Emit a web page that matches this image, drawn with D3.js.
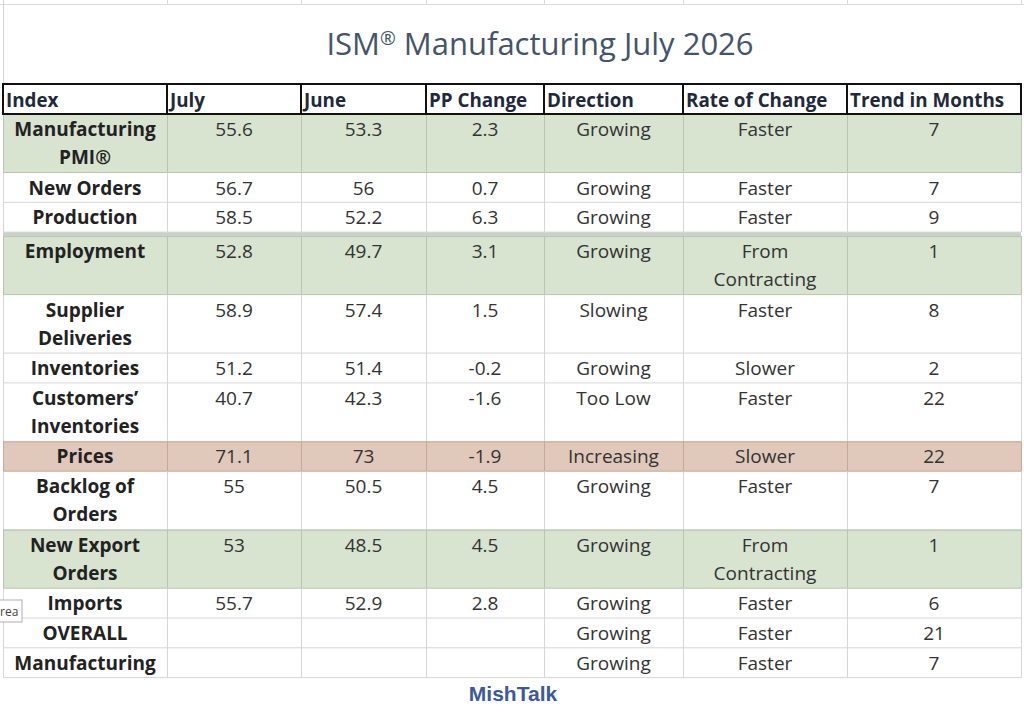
<!DOCTYPE html>
<html>
<head>
<meta charset="utf-8">
<script src="https://cdn.jsdelivr.net/npm/d3@7"></script>
<style>
  body { margin: 0; background: #fff; }
  svg { display: block; }
</style>
</head>
<body>
<svg id="chart" width="1024" height="721"></svg>
<script>
// Table contents
const titleParts = ["ISM", "®", " Manufacturing July 2026"];
const headers = ["Index", "July", "June", "PP Change", "Direction", "Rate of Change", "Trend in Months"];
const indexNames = [
  ["Manufacturing", "PMI®"], ["New Orders"], ["Production"], ["Employment"],
  ["Supplier", "Deliveries"], ["Inventories"], ["Customers’", "Inventories"], ["Prices"],
  ["Backlog of", "Orders"], ["New Export", "Orders"], ["Imports"], ["OVERALL"], ["Manufacturing"]
];
const julyValues = [55.6, 56.7, 58.5, 52.8, 58.9, 51.2, 40.7, 71.1, 55, 53, 55.7, null, null];
const juneValues = [53.3, 56, 52.2, 49.7, 57.4, 51.4, 42.3, 73, 50.5, 48.5, 52.9, null, null];
const ppChanges = [2.3, 0.7, 6.3, 3.1, 1.5, -0.2, -1.6, -1.9, 4.5, 4.5, 2.8, null, null];
const directions = ["Growing", "Growing", "Growing", "Growing", "Slowing", "Growing", "Too Low",
  "Increasing", "Growing", "Growing", "Growing", "Growing", "Growing"];
const ratesOfChange = [
  ["Faster"], ["Faster"], ["Faster"], ["From", "Contracting"], ["Faster"], ["Slower"], ["Faster"],
  ["Slower"], ["Faster"], ["From", "Contracting"], ["Faster"], ["Faster"], ["Faster"]
];
const trendMonths = [7, 7, 9, 1, 8, 2, 22, 22, 7, 1, 6, 21, 7];
const rowHighlight = ["green", "", "", "green", "", "", "", "prices", "", "green", "", "", ""];

// Layout
const colEdges = [3, 167, 301, 426, 544, 683, 847, 1021];
const headerTop = 84, headerH = 30;
const lineH = 28, singleH = 29.8, doubleH = 58.5;
const thickTopRows = new Set([3]);
const fills = { green: "#d8e3d0", prices: "#e0c8bb" };
const edges = { green: "#b8c5b0", prices: "#c8a999" };

const svg = d3.select("#chart");

const cols = d3.range(headers.length);
const x = d3.scaleOrdinal().domain(cols).range(colEdges.slice(0, -1));
const colW = c => colEdges[c + 1] - colEdges[c];

// Build rows from data
const rows = indexNames.map((name, i) => {
  const cells = [
    name,
    julyValues[i] == null ? [] : [String(julyValues[i])],
    juneValues[i] == null ? [] : [String(juneValues[i])],
    ppChanges[i] == null ? [] : [String(ppChanges[i])],
    [directions[i]],
    ratesOfChange[i],
    [String(trendMonths[i])]
  ];
  const lines = d3.max(cells, c => c.length);
  return { i, cells, lines, hl: rowHighlight[i], h: lines > 1 ? doubleH : singleH, gap: thickTopRows.has(i) ? 4 : 0 };
});
let acc = headerTop + headerH;
rows.forEach(r => { acc += r.gap; r.top = acc; acc += r.h; });
const tableBottom = acc;
const y = d3.scaleOrdinal().domain(rows.map(r => r.i)).range(rows.map(r => r.top));

// Sheet gridlines above the table
svg.append("line").attr("x1", 0).attr("x2", 1024).attr("y1", 4.5).attr("y2", 4.5)
  .attr("stroke", "#dcdcdc");
svg.selectAll(".topgrid").data(colEdges).enter().append("line")
  .attr("x1", d => d + 0.5).attr("x2", d => d + 0.5).attr("y1", 0).attr("y2", 4.5)
  .attr("stroke", "#dcdcdc");
svg.append("line").attr("x1", 3.5).attr("x2", 3.5).attr("y1", 0).attr("y2", tableBottom)
  .attr("stroke", "#d4d4d4");

// Title
const titleText = svg.append("text")
  .attr("x", 540).attr("y", 55)
  .attr("text-anchor", "middle")
  .attr("font-family", "Open Sans")
  .attr("font-size", 31)
  .attr("fill", "#44546a");
titleText.append("tspan").text(titleParts[0]);
titleText.append("tspan").attr("font-size", 19).attr("dy", -10).text(titleParts[1]);
titleText.append("tspan").attr("dy", 10).text(titleParts[2]);

// Row backgrounds
const rowG = svg.append("g");
rowG.selectAll("rect.hl").data(rows.filter(r => r.hl)).enter().append("rect")
  .attr("x", colEdges[0]).attr("width", colEdges[colEdges.length - 1] - colEdges[0])
  .attr("y", r => y(r.i)).attr("height", r => r.h)
  .attr("fill", r => fills[r.hl]);

// Thick separators above some rows
rowG.selectAll("rect.gap").data(rows.filter(r => r.gap)).enter().append("rect")
  .attr("x", colEdges[0]).attr("width", colEdges[colEdges.length - 1] - colEdges[0])
  .attr("y", r => y(r.i) - r.gap).attr("height", r => r.gap)
  .attr("fill", "#cbd1c7");

// Gridlines in data area
rows.forEach(r => {
  const c = r.hl ? edges[r.hl] : "#d6d6d6";
  rowG.append("line")
    .attr("x1", colEdges[0]).attr("x2", colEdges[colEdges.length - 1])
    .attr("y1", r.top + r.h).attr("y2", r.top + r.h)
    .attr("stroke", c);
  if (r.hl) {
    rowG.append("line")
      .attr("x1", colEdges[0]).attr("x2", colEdges[colEdges.length - 1])
      .attr("y1", r.top + 0.5).attr("y2", r.top + 0.5)
      .attr("stroke", c);
  }
  rowG.selectAll(null).data(colEdges).enter().append("line")
    .attr("x1", d => d + 0.5).attr("x2", d => d + 0.5)
    .attr("y1", r.top).attr("y2", r.top + r.h)
    .attr("stroke", c);
});

// Header cells
const head = svg.append("g");
head.selectAll("rect").data(cols).enter().append("rect")
  .attr("x", c => x(c)).attr("y", headerTop)
  .attr("width", c => colW(c)).attr("height", headerH)
  .attr("fill", "#fff").attr("stroke", "#111").attr("stroke-width", 2);
head.selectAll("text").data(cols).enter().append("text")
  .attr("x", c => x(c) + 3).attr("y", headerTop + 23)
  .attr("font-family", "Open Sans").attr("font-weight", "bold")
  .attr("font-size", 18.8).attr("fill", "#1e2a3a")
  .text(c => headers[c]);

// Cell texts
const cellData = [];
rows.forEach(r => r.cells.forEach((lines, c) => lines.forEach((t, k) => cellData.push({ r, c, k, t }))));
svg.append("g").selectAll("text").data(cellData).enter().append("text")
  .attr("x", d => x(d.c) + colW(d.c) / 2)
  .attr("y", d => y(d.r.i) + 22 + d.k * lineH)
  .attr("text-anchor", "middle")
  .attr("font-family", "Open Sans")
  .attr("font-weight", d => d.c === 0 ? "bold" : "normal")
  .attr("font-size", 19)
  .attr("fill", d => d.c === 0 ? "#222" : "#333")
  .text(d => d.t);

// Leftover tooltip fragment at the left edge
const tip = svg.append("g");
tip.append("rect").attr("x", -2).attr("y", 600).attr("width", 24).attr("height", 22)
  .attr("fill", "#fff").attr("stroke", "#b0b0b0");
tip.append("text").attr("x", 0).attr("y", 616)
  .attr("font-family", "Open Sans").attr("font-size", 12).attr("fill", "#444")
  .text("rea");

// Watermark
svg.append("text")
  .attr("x", 513).attr("y", 701)
  .attr("text-anchor", "middle")
  .attr("font-family", "Liberation Sans, Arial")
  .attr("font-weight", "bold")
  .attr("font-size", 21)
  .attr("fill", "#3b5a9a")
  .text("MishTalk");
</script>
</body>
</html>
